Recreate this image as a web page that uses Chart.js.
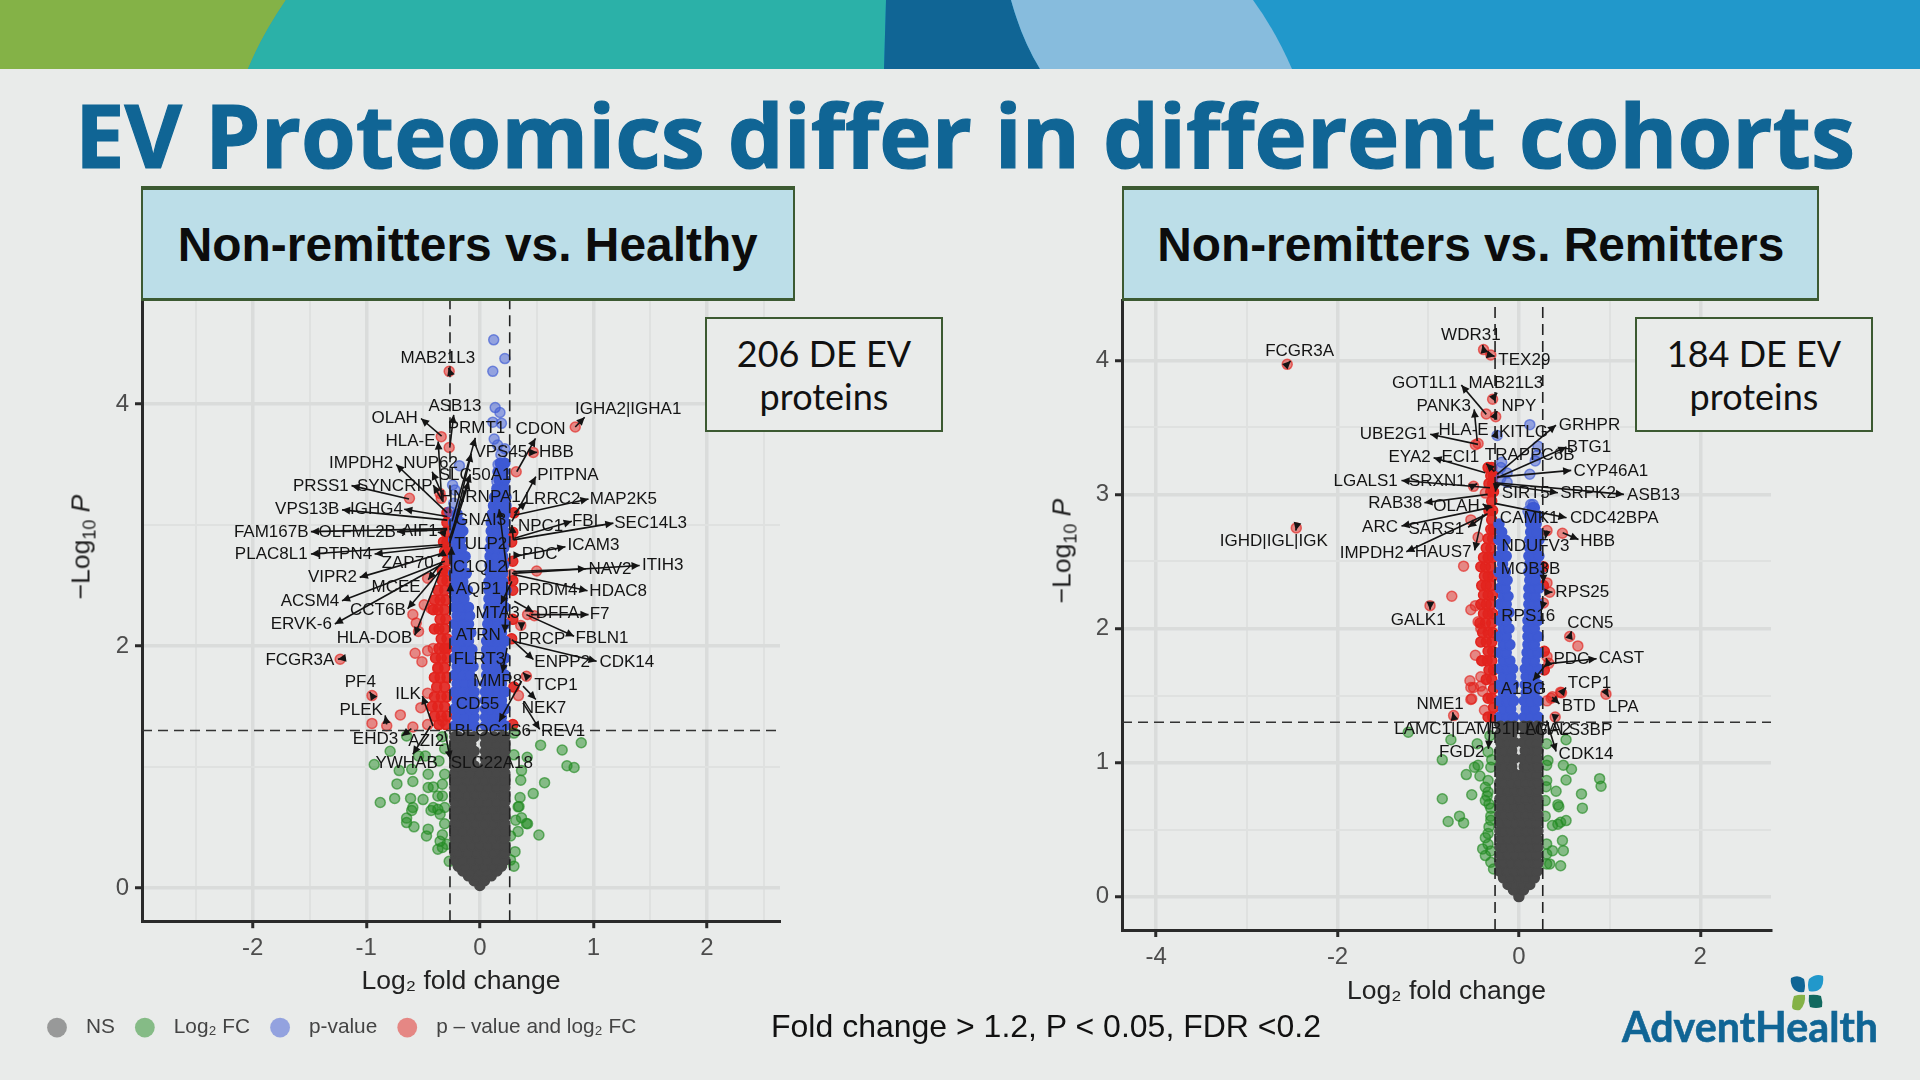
<!DOCTYPE html>
<html><head><meta charset="utf-8">
<script src="https://cdn.jsdelivr.net/npm/chart.js@4/dist/chart.umd.min.js"></script>
<style>
html,body{margin:0;padding:0;width:1920px;height:1080px;overflow:hidden;background:#E9EBEA;font-family:"Liberation Sans",sans-serif}
canvas{position:absolute}
.abs{position:absolute;white-space:nowrap}
.hdr{position:absolute;background:#BCDEE8;border:2px solid #3C5A32;border-top-width:4px;border-bottom-width:3px;box-sizing:border-box;display:flex;align-items:center;justify-content:center;font:bold 48px "Liberation Sans";color:#0c0c0c;top:186px;height:115px}
.de{position:absolute;top:317px;height:115px;border:2px solid #3C5A32;background:#E9EBEA;box-sizing:border-box;text-align:center;font:36px/43px Lato;color:#111;padding-top:13px}
.yt{position:absolute;font:26.5px "Liberation Sans";color:#222;transform:translate(-50%,-50%) rotate(-90deg);white-space:nowrap}
.yt sub{font-size:18px;line-height:0}
</style></head><body>
<svg class="abs" style="left:0;top:0" width="1920" height="69">
<rect width="1920" height="69" fill="#2198CB"/>
<path d="M0 0H286Q262 35 248 69H0Z" fill="#84B247"/>
<path d="M286 0H886L884 69H248Q262 35 286 0Z" fill="#2BB1A8"/>
<path d="M886 0H1011Q1022 40 1040 69H884Z" fill="#106595"/>
<path d="M1011 0H1253Q1275 30 1292 69H1040Q1022 40 1011 0Z" fill="#87BCDD"/>
</svg>
<canvas id="cL" width="900" height="784" style="left:0;top:270px"></canvas>
<canvas id="cR" width="900" height="720" style="left:1000px;top:291px"></canvas>
<div id="ttl" class="abs" style="left:75px;top:74px;font:bold 88px 'Open Sans';color:#106595;-webkit-text-stroke:1.2px #106595;transform-origin:0 0">EV Proteomics differ in different cohorts</div>
<div class="hdr" style="left:141px;width:654px"><span id="h1" style="display:inline-block">Non-remitters vs. Healthy</span></div>
<div class="hdr" style="left:1122px;width:697px"><span id="h2" style="display:inline-block">Non-remitters vs. Remitters</span></div>
<div class="de" style="left:705px;width:238px">206 DE EV<br>proteins</div>
<div class="de" style="left:1635px;width:238px">184 DE EV<br>proteins</div>
<div class="yt" style="left:81px;top:547px">−Log<sub>10</sub> <i>P</i></div>
<div class="yt" style="left:1062px;top:551px">−Log<sub>10</sub> <i>P</i></div>
<div class="abs" style="left:771px;top:1008px;font:32px 'Liberation Sans';color:#111">Fold change &gt; 1.2, P &lt; 0.05, FDR &lt;0.2</div>
<svg class="abs" style="left:1788px;top:974px" width="38" height="38" viewBox="0 0 38 38">
<path d="M3 4Q10 0 16 5Q18 12 16 18Q8 19 5 14Q2 9 3 4Z" fill="#106595"/>
<path d="M21 5Q28 -1 35 2Q36 10 33 14Q28 19 21 17Q19 11 21 5Z" fill="#2198CB"/>
<path d="M6 22Q12 20 17 21Q18 30 12 36Q5 37 4 33Q4 27 6 22Z" fill="#84B247"/>
<path d="M21 21Q28 20 33 22Q35 28 34 33Q28 35 22 33Q20 27 21 21Z" fill="#12695F"/>
</svg>
<div id="logo" class="abs" style="left:1622px;top:1001px;font:bold 42px Lato;color:#106595;-webkit-text-stroke:.6px #106595;transform-origin:0 0">AdventHealth</div>
<script>
// ---------- thresholds ----------
const xCut = 0.263, yCut = 1.301;
const legendNames = ["NS", "Log₂ FC", "p-value", "p – value and log₂ FC"];
const xTitleText = "Log₂ fold change";

// ---------- LEFT PANEL values, rows are [y, x, x, ...] ----------
const leftGray = [[.02,0],[.06,-.05,.04],[.10,-.1,-.03,.04,.1],[.14,-.15,-.08,0,.07,.15],[.18,-.19,-.12,-.04,.04,.12,.19],
[.23,-.22,-.15,-.07,0,.07,.15,.22],[.29,-.22,-.19,-.11,-.03,.05,.12,.2,.22],[.35,-.22,-.15,-.07,0,.07,.15,.22],[.41,-.22,-.19,-.11,-.03,.04,.11,.19,.22],
[.47,-.22,-.15,-.07,0,.08,.15,.22],[.53,-.22,-.19,-.11,-.04,.04,.12,.19,.22],[.59,-.22,-.15,-.07,0,.07,.15,.22],[.65,-.22,-.19,-.11,-.04,.04,.11,.19,.22],
[.71,-.22,-.15,-.07,0,.07,.15,.22],[.77,-.22,-.19,-.11,-.04,.04,.11,.2,.22],[.83,-.22,-.15,-.07,0,.07,.15,.22],[.89,-.22,-.19,-.11,-.04,.04,.12,.19,.22],
[.95,-.22,-.15,-.08,0,.08,.15,.22],[1.01,-.22,-.19,-.12,-.05,.05,.11,.19,.22],[1.07,-.22,-.15,-.08,.05,.08,.15,.22],[1.13,-.22,-.19,-.11,-.05,.05,.12,.19,.22],
[1.19,-.22,-.15,-.08,.05,.08,.15,.22],[1.25,-.22,-.19,-.11,-.05,.05,.12,.19,.22]];
const leftBlueDense = [[1.34,-.22,-.15,-.09,-.05,.05,.1,.16,.22],[1.41,-.2,-.13,-.05,.05,.12,.19],[1.48,-.22,-.15,-.09,-.05,.05,.09,.16,.22],
[1.55,-.2,-.13,-.05,.05,.12,.19],[1.62,-.22,-.15,-.09,-.05,.05,.09,.16,.22],[1.69,-.2,-.13,-.06,.05,.12,.19],[1.76,-.22,-.15,-.09,.06,.1,.16,.22],
[1.83,-.2,-.13,-.06,.06,.12,.19],[1.90,-.22,-.15,-.09,.06,.1,.16,.22],[1.97,-.2,-.13,-.07,.06,.12,.19],[2.04,-.22,-.15,-.1,.06,.1,.16,.22],
[2.11,-.2,-.13,-.08,.07,.12,.19],[2.18,-.22,-.15,-.1,.07,.11,.16,.22],[2.25,-.2,-.13,-.09,.07,.13,.19],[2.32,-.22,-.16,-.1,.08,.12,.17,.22],
[2.39,-.21,-.14,.08,.14,.2],[2.46,-.23,-.17,-.11,.08,.13,.18,.23],[2.53,-.21,-.15,.08,.14,.2],[2.60,-.23,-.17,-.12,.09,.14,.2],
[2.67,-.21,-.16,.09,.15,.21],[2.74,-.23,-.18,-.13,.09,.14,.2],[2.81,-.21,-.16,.09,.15,.21],[2.88,-.23,-.17,.1,.16,.22],
[2.95,-.22,-.15,.1,.15,.21],[3.02,-.23,-.17,.1,.16,.22],[3.09,-.2,.11,.17,.22],[3.16,.12,.17,.23],[3.23,.13,.19,.23],[3.3,.15,.21],[3.37,.17,.22],[3.44,.16,.21],[3.51,.18,.22]];
const leftBlueSparse = [[4.53,.122],[4.375,.22],[4.27,.114],[3.97,.135],[3.93,.177],[3.85,.114],[3.84,.19],[3.71,.126],[3.66,.156],[3.58,.185],[3.63,.22],
[3.5,.16],[3.46,.2],[3.4,.19],[3.36,.15],[3.31,.22],[3.49,-.18],[3.33,-.24],[3.29,-.22],[3.11,-.265],[3.18,-.23]];
const leftRedDense = [[1.35,-.3,-.36,.29],[1.42,-.29,-.34,-.4],[1.5,-.31,-.37,-.42],[1.58,-.29,-.34,-.4],[1.66,-.31,-.38,.3],[1.74,-.29,-.35,-.4],[1.82,-.31,-.37],
[1.9,-.29,-.34,-.39],[1.98,-.31,-.36,-.29],[2.06,-.29,-.34,.28],[2.14,-.31,-.36,-.4],[2.22,-.3,-.35,.29],[2.3,-.31,-.37,-.41],[2.38,-.3,-.35,-.4],[2.46,-.31,-.37,.29],
[2.54,-.29,-.33,.29],[2.62,-.3,-.33],[2.7,-.29,.29],[2.78,-.31,-.28],[2.86,-.32,-.29,.28],[2.94,-.3,.29],[3.02,-.29],[3.1,-.29,.3]];
const leftRedSparse = [[4.27,-.27],[3.81,.84],[3.73,-.34],[3.64,-.27],[3.6,.47],[3.44,.32],[3.22,-.62],[3.22,-.34],[3.26,-.35],[2.62,.5],[2.59,.28],[2.56,-.46],
[2.26,-.59],[2.34,-.49],[2.31,-.43],[2.19,-.56],[2.12,-.54],[2.26,.42],[2.25,.48],[2.17,.36],[1.94,-.57],[1.87,-.51],[1.96,-.46],[1.98,-.41],[1.89,-1.23],
[1.81,-.37],[1.75,.41],[1.59,-.95],[1.61,-.46],[1.59,.34],[1.49,-.52],[1.43,-.7],[1.36,-.95],[1.34,-.82],[1.33,-.59],[1.35,-.46],[1.38,-.33]];
const leftGreen = [[1.256,-.645],[1.13,-.79],[1.02,-.93],[.97,-.71],[.98,-.6],[1.09,-.54],[1.09,-.48],[.94,-.455],[.86,-.73],[.88,-.59],[.83,-.455],[.835,-.41],[.857,-.33],
[.94,-.31],[.74,-.75],[.706,-.877],[.74,-.61],[.73,-.5],[.76,-.37],[.76,-.33],[.665,-.59],[.64,-.6],[.665,-.41],[.65,-.37],[.665,-.31],[.64,-.43],[.61,-.35],[.577,-.645],
[.54,-.645],[.505,-.58],[.486,-.455],[.43,-.47],[.53,-.31],[.44,-.33],[.385,-.35],[.32,-.37],[.335,-.33],[.36,-.29],[.22,-.27],[1.25,-.33],[1.15,-.31],[1.05,-.36],
[1.18,.535],[1.14,.725],[1.2,.893],[1.28,.3],[1.01,.767],[.995,.83],[1.1,.3],[1.08,.417],[.97,.367],[.89,.36],[.87,.57],[.78,.47],[.747,.354],[.673,.345],[.67,.337],
[.58,.367],[.56,.316],[.533,.41],[.53,.42],[.467,.337],[.437,.52],[.43,.27],[.3,.31],[.23,.27],[.18,.3]];
const leftLabels = [
["MAB21L3",-.37,4.375,-.265,4.27,-.275,4.30],["ASB13",-.22,3.98,-.265,3.64,-.23,3.91],["OLAH",-.75,3.885,-.337,3.735,-.518,3.88],
["PRMT1",-.03,3.80,-.245,3.03,-.04,3.72],["CDON",.535,3.79,.325,3.44,.49,3.715],["IGHA2|IGHA1",1.306,3.96,.84,3.81,.923,3.89],
["HLA-E",-.61,3.69,-.337,3.22,-.367,3.69],["VPS45",.185,3.60,-.245,2.92,-.076,3.59],["HBB",.674,3.60,.468,3.60,.505,3.6],
["IMPDH2",-1.045,3.506,-.287,3.10,-.737,3.5],["NUP62",-.434,3.506,-.33,3.25,-.42,3.44],["SLC50A1",-.042,3.41,-.265,2.89,-.084,3.42],
["PITPNA",.775,3.41,.282,3.03,.493,3.40],["PRSS1",-1.40,3.317,-.624,3.215,-1.13,3.325],["SYNCRIP",-.75,3.317,-.33,3.2,-.41,3.33],
["HNRNPA1",.008,3.226,-.265,2.85,-.097,3.36],["LRRC2",.64,3.215,.303,3.10,.41,3.19],["MAP2K5",1.264,3.215,.303,3.08,.957,3.215],
["VPS13B",-1.52,3.13,-.287,3.04,-1.214,3.125],["IGHG4",-.91,3.13,-.287,3.07,-.666,3.13],["GNAI3",.008,3.04,.24,2.61,.17,3.13],
["NPC1",.535,2.99,.295,2.877,.282,3.0],["FBL",.948,3.03,.303,2.89,.81,3.03],["SEC14L3",1.504,3.01,.295,2.877,1.176,3.015],
["FAM167B",-1.837,2.94,-.287,2.97,-1.488,2.945],["OLFML2B",-1.08,2.94,-.287,2.96,-.73,2.945],["AIF1",-.53,2.945,-.3,2.93,-.37,2.94],
["TULP2",.008,2.844,-.25,2.6,-.25,2.82],["ICAM3",1.0,2.83,.303,2.74,.754,2.82],["PDC",.527,2.754,.325,2.75,.367,2.75],
["PLAC8L1",-1.837,2.754,-.33,2.836,-1.488,2.76],["PTPN4",-1.19,2.754,-.33,2.822,-.927,2.76],["ZAP70",-.636,2.685,-.31,2.77,-.37,2.74],
["C1QL2",0,2.65],["ITIH3",1.61,2.665,.282,2.60,1.407,2.665],["NAV2",1.146,2.635,.295,2.616,.935,2.638],["VIPR2",-1.298,2.567,-.33,2.767,-1.058,2.567],
["HDAC8",1.218,2.45,.295,2.59,.948,2.456],["PRDM4",.598,2.456],["AQP1",-.013,2.465,-.26,2.26,-.26,2.52],["MCEE",-.737,2.484,-.33,2.70,-.455,2.547],
["ACSM4",-1.496,2.369,-.308,2.70,-1.214,2.374],["CCT6B",-.898,2.292,-.33,2.643,-.636,2.308],["ERVK-6",-1.572,2.182,-.33,2.677,-1.277,2.182],
["MTA3",.156,2.273,.282,2.534,.185,2.347],["DFFA",.683,2.273,.303,2.369,.472,2.28],["F7",1.054,2.259,.45,2.259,.957,2.259],["FBLN1",1.075,2.066,.41,2.259,.83,2.08],
["HLA-DOB",-.927,2.066,-.35,2.616,-.573,2.088],["ATRN",-.013,2.086,.24,2.53,.22,2.11],["PRCP",.544,2.058,.367,2.176,.367,2.13],
["ENPP2",.725,1.866,.282,2.053,.472,1.888],["CDK14",1.294,1.866,.295,2.039,1.028,1.874],["FCGR3A",-1.585,1.88,-1.23,1.893,-1.25,1.89],["FLRT3",-.004,1.893],
["MMP8",.156,1.709,.24,1.984,.198,1.778],["TCP1",.67,1.676,.41,1.75,.38,1.78],["PF4",-1.053,1.70,-.952,1.594,-.97,1.62],
["ILK",-.632,1.6,-.413,1.338,-.506,1.586],["PLEK",-1.045,1.467,-.82,1.352,-.834,1.426],["CD55",-.02,1.517],["NEK7",.565,1.484,.38,1.668,.493,1.558],
["BLOC1S6",.114,1.297,.367,1.71,.169,1.374],["REV1",.733,1.297,.38,1.53,.527,1.31],["EHD3",-.919,1.228,-.603,1.316,-.687,1.256],["AZI2",-.472,1.215],
["YWHAB",-.645,1.028,-.434,1.338,-.59,1.105],["SLC22A18",.105,1.028,-.308,1.297,-.261,1.066]];

// ---------- RIGHT PANEL values ----------
const rightGray = [[.0,0],[.05,-.06,.05],[.09,-.12,-.04,.04,.12],[.14,-.17,-.09,0,.08,.17],[.19,-.21,-.13,-.05,.04,.12,.2],[.25,-.21,-.17,-.08,0,.08,.17,.21],
[.31,-.2,-.12,-.04,.04,.12,.2],[.37,-.21,-.16,-.08,0,.08,.16,.21],[.43,-.2,-.12,-.04,.04,.12,.2],[.49,-.21,-.16,-.08,0,.08,.16,.21],[.55,-.2,-.12,-.04,.04,.12,.2],[.61,-.21,-.16,-.08,0,.08,.16,.21],
[.67,-.2,-.12,-.04,.04,.12,.2],[.73,-.21,-.16,-.08,0,.08,.16,.21],[.79,-.2,-.12,-.04,.04,.12,.2],[.85,-.21,-.16,-.08,0,.08,.16,.21],[.91,-.2,-.12,-.04,.04,.12,.2],[.97,-.21,-.16,-.08,.06,.08,.16,.21],
[1.03,-.2,-.12,-.05,.05,.12,.2],[1.09,-.21,-.16,-.08,.07,.16,.21],[1.15,-.2,-.12,-.05,.05,.12,.2],[1.21,-.21,-.16,-.08,.07,.16,.21],[1.27,-.2,-.12,-.05,.05,.12,.2]];
const rightBlueDense = [[1.34,-.21,-.13,-.06,.06,.13,.21],[1.4,-.17,-.09,.08,.17],[1.46,-.21,-.13,-.06,.06,.13,.21],[1.52,-.17,-.09,.08,.17],[1.58,-.21,-.13,-.06,.07,.13,.21],
[1.64,-.17,-.09,.08,.17],[1.7,-.21,-.13,-.07,.07,.13,.21],[1.76,-.17,-.1,.09,.17],[1.82,-.21,-.14,.09,.14,.21],[1.88,-.17,-.1,.1,.17],[1.94,-.21,-.14,.1,.15,.21],
[2.0,-.17,-.11,.1,.17],[2.06,-.21,-.14,.1,.15,.21],[2.12,-.17,-.11,.11,.18],[2.18,-.21,-.14,.11,.16,.22],[2.24,-.17,-.12,.11,.18],[2.3,-.21,-.15,.11,.16,.22],
[2.36,-.18,-.13,.12,.18],[2.42,-.22,-.15,.11,.16,.22],[2.48,-.18,.12,.19],[2.54,-.22,-.14,.11,.16,.22],[2.6,-.18,.12,.19],[2.66,-.22,-.15,.12,.17,.22],[2.72,-.19,.13,.2],[2.78,-.22,.13,.19],[2.84,.12,.18,.21],[2.9,.15,.17]];
const rightBlueSparse = [[3.52,.12],[3.44,-.24],[3.36,.21],[3.25,.18],[3.24,-.19],[3.15,.12],[3.16,-.13],[3.09,-.13],[2.925,.156],[2.925,.13],[2.875,.1],[3.2,-.2],[3.29,.2],[3.12,-.2]];
const rightRedDense = [[1.34,-.29,-.34],[1.41,-.28],[1.48,-.3,-.34],[1.55,-.28],[1.62,-.3,-.36],[1.69,-.28,-.33,.28],[1.76,-.3,-.35,-.41],[1.83,-.29,-.34,.28],[1.9,-.3,-.36,-.42],[1.97,-.29,-.34,-.4],
[2.04,-.3,-.37,-.43],[2.11,-.29,-.34,-.39],[2.18,-.31,-.36,-.42],[2.25,-.29,-.34,-.39],[2.32,-.31,-.36,-.41,.27],[2.39,-.29,-.34,-.38],[2.46,-.31,-.37,-.42,.27],[2.53,-.29,-.34,-.39],[2.6,-.31,-.36],
[2.67,-.29,-.34],[2.74,-.31,-.28],[2.81,-.3],[2.88,-.29,-.33],[2.95,-.3],[3.02,-.31,-.28],[3.08,-.29,-.33],[3.14,-.31,-.28],[3.2,-.3,-.34]];
const rightRedSparse = [[3.97,-2.555],[4.08,-.39],[4.04,-.31],[3.71,-.29],[3.6,-.36],[3.58,-.256],[3.38,-.45],[3.37,-.48],[2.75,-2.455],[3.06,-.5],[3.01,-.37],[2.81,-.53],[2.68,-.45],
[2.73,.31],[2.71,.48],[2.465,-.61],[2.24,-.74],[2.17,-.98],[2.34,.31],[2.27,.34],[2.19,.27],[1.94,.56],[1.87,.65],[2.17,-.48],[2.14,-.53],[2.05,-.45],[2.0,-.42],[1.79,.31],[1.74,.33],[1.8,-.48],
[1.61,-.54],[1.56,-.53],[1.56,-.5],[1.57,-.42],[1.53,-.4],[1.47,-.53],[1.52,.47],[1.51,.96],[1.48,.355],[1.46,.31],[1.35,-.72],[1.39,-.38],[1.475,-.52],[1.34,.4],[1.49,.37],[1.525,.46],[1.64,-.42],[1.76,-.4]];
const rightGreen = [[1.226,-1.22],[1.17,-.75],[1.02,-.845],[1.14,-.46],[.965,-.49],[.98,-.45],[.91,-.58],[.9,-.43],[1.08,-.34],[.965,-.31],[.866,-.34],[.816,-.37],[.78,-.34],[.75,-.35],[.73,-.845],[.76,-.52],
[.716,-.37],[.6,-.31],[.57,-.31],[.6,-.655],[.56,-.78],[.55,-.61],[.47,-.34],[.44,-.37],[.39,-.34],[.356,-.4],[.306,-.37],[.256,-.31],[.206,-.28],[1.2,-.32],[1.02,-.3],[.69,-.33],[.66,-.31],[.52,-.33],[.34,-.31],
[1.17,.52],[1.14,.306],[1.015,.32],[.98,.49],[.95,.58],[.98,.306],[.88,.89],[.823,.906],[.87,.52],[.866,.306],[.786,.41],[.766,.69],[.66,.7],[.686,.43],[.67,.44],[.716,.29],[.567,.52],[.555,.46],[.53,.37],[.54,.43],
[.418,.48],[.343,.49],[.343,.37],[.318,.306],[.393,.306],[.23,.46],[.244,.34],[.244,.306],[.6,.29],[.82,.3]];
const rightLabels = [
["WDR31",-.53,4.187,-.388,4.08,-.40,4.115],["TEX29",.06,4.0,-.309,4.037,-.267,4.03],["FCGR3A",-2.418,4.065,-2.555,3.97,-2.518,3.995],
["GOT1L1",-1.04,3.828,-.36,3.597,-.635,3.816],["MAB21L3",-.145,3.828,-.293,3.714,-.24,3.759],["PANK3",-.83,3.654,-.46,3.398,-.493,3.634],["NPY",0,3.654,-.266,3.585,-.24,3.622],
["GRHPR",.778,3.517,-.24,3.149,.409,3.517],["KITLG",.05,3.46,-.256,3.443,-.235,3.48],["HLA-E",-.61,3.48],["UBE2G1",-1.385,3.448,-.451,3.373,-.978,3.448],
["BTG1",.773,3.348,-.24,3.124,.525,3.353],["TRAPPC6B",.119,3.294,-.27,3.17,-.36,3.23],["EYA2",-1.205,3.274,-.372,3.162,-.941,3.274],["ECI1",-.646,3.274],
["CYP46A1",1.015,3.174,-.24,3.129,.577,3.179],["LGALS1",-1.69,3.1,-.319,3.05,-1.295,3.104],["SRXN1",-.9,3.1,-.514,3.062,-.46,3.08],["SIRT5",.076,3.007,-.25,3.06,-.26,3.02],
["SRPK2",.762,3.007,-.266,3.08,.43,3.012],["ASB13",1.485,2.995,-.266,3.087,1.158,3.0],["RAB38",-1.364,2.933,-.345,3.0,-1.042,2.938],["OLAH",-.688,2.913,-.34,2.9,-.4,2.93],
["CDC42BPA",1.052,2.82,-.266,2.933,.525,2.826],["CAMK1",.113,2.82],["ARC",-1.532,2.751,-.293,2.905,-1.295,2.764],["SARS1",-.91,2.739,-.36,2.85,-.56,2.755],
["HBB",.868,2.647,.483,2.714,.657,2.664],["IGHD|IGL|IGK",-2.703,2.647,-2.455,2.746,-2.46,2.73],["NDUFV3",.182,2.614,.31,2.73,.29,2.67],
["IMPDH2",-1.622,2.56,-.345,2.856,-1.242,2.572],["HAUS7",-.836,2.565,-.398,2.851,-.488,2.582],["MOB3B",.129,2.445,.27,2.5,.27,2.34],["RPS25",.699,2.266,.34,2.271,.37,2.271],
["RPS16",.103,2.092,.27,2.19,.25,2.14],["GALK1",-1.11,2.06,-.978,2.167,-.98,2.14],["CCN5",.788,2.037,.562,1.943,.58,1.98],["PDC",.578,1.769,.33,1.72,.3,1.78],
["CAST",1.131,1.774,.303,1.736,.857,1.774],["A1BG",.05,1.545,.314,1.744,.156,1.612],["TCP1",.778,1.594,.472,1.52,.52,1.56],["NME1",-.869,1.438,-.722,1.351,-.73,1.375],
["BTD",.661,1.42,.367,1.488,.447,1.438],["LPA",1.15,1.413,.967,1.517,.99,1.49],["LGALS3BP",.55,1.239,.398,1.338,.39,1.3],["LAMC1|LAMB1|LAMA2",-.398,1.246],
["FGD2",-.63,1.077,-.306,1.363,-.337,1.102],["CDK14",.74,1.065,.306,1.313,.41,1.082]];

// ---------- helpers: build point lists from the tables above ----------
const fromRows = rows => rows.flatMap(([y, ...xs]) => xs.map(x => ({x, y})));
const fromPairs = pairs => pairs.map(([y, x]) => ({x, y}));

const GRAY = "72,72,72", GREEN = "34,139,34", BLUE = "62,90,212", RED = "226,36,30";
const isMajor = (v, m) => Math.abs(v / m - Math.round(v / m)) < 1e-6;

function geneLabels(items) {
  return {id: "geneLabels", afterDatasetsDraw(chart) {
    const {ctx, scales: {x, y}} = chart;
    ctx.save();
    ctx.strokeStyle = ctx.fillStyle = "#141414";
    ctx.lineWidth = 1.6;
    for (const [, , , ox, oy, tx, ty] of items) {
      if (ox === undefined) continue;
      const a = x.getPixelForValue(ox), b = y.getPixelForValue(oy), c = x.getPixelForValue(tx), d = y.getPixelForValue(ty);
      const t = Math.atan2(d - b, c - a);
      ctx.beginPath(); ctx.moveTo(a, b); ctx.lineTo(c, d); ctx.stroke();
      ctx.beginPath(); ctx.moveTo(c, d);
      ctx.lineTo(c - 9 * Math.cos(t - .45), d - 9 * Math.sin(t - .45));
      ctx.lineTo(c - 9 * Math.cos(t + .45), d - 9 * Math.sin(t + .45));
      ctx.closePath(); ctx.fill();
    }
    ctx.font = '17px "Liberation Sans"';
    ctx.textAlign = "center"; ctx.textBaseline = "middle";
    for (const [name, lx, ly] of items) ctx.fillText(name, x.getPixelForValue(lx), y.getPixelForValue(ly));
    ctx.restore();
  }};
}

function series(label, rgb, pts, alpha, inLegend) {
  return {label, data: pts, backgroundColor: `rgba(${rgb},${alpha})`, borderColor: `rgba(${rgb},${Math.min(1, alpha + .15)})`,
    borderWidth: 1.5, pointRadius: 5, pointStyle: "circle", inLegend, legendFill: `rgba(${rgb},.5)`};
}

function panel(id, cfg) {
  const axisCommon = (major, labelStep) => ({
    type: "linear", offset: false, border: {color: "#2a2a2a", width: 3},
    grid: {drawOnChartArea: true, color: c => isMajor(c.tick.value, major) ? "#DADCDB" : "#DFE1E0",
      lineWidth: c => isMajor(c.tick.value, major) ? 3.5 : 2,
      tickColor: c => isMajor(c.tick.value, major) ? "#2a2a2a" : "rgba(0,0,0,0)", tickLength: 7, tickWidth: 3},
    ticks: {includeBounds: false, autoSkip: false, maxRotation: 0, color: "#4D4D4D", font: {size: 24, family: "Liberation Sans"}, padding: 6,
      callback: v => isMajor(v, labelStep) ? String(Math.round(v)) : ""}
  });
  new Chart(document.getElementById(id), {
    type: "scatter",
    plugins: [geneLabels(cfg.labels)],
    data: {datasets: [
      {label: "yCut", data: [{x: cfg.xMin, y: yCut}, {x: cfg.xMax, y: yCut}], showLine: true, pointRadius: 0, borderColor: "#333", borderWidth: 1.6, borderDash: [10, 6]},
      {label: "xCutL", data: [{x: -xCut, y: cfg.yMin}, {x: -xCut, y: cfg.yMax}], showLine: true, pointRadius: 0, borderColor: "#222", borderWidth: 1.6, borderDash: [11, 6]},
      {label: "xCutR", data: [{x: xCut, y: cfg.yMin}, {x: xCut, y: cfg.yMax}], showLine: true, pointRadius: 0, borderColor: "#222", borderWidth: 1.6, borderDash: [11, 6]},
      series(legendNames[0], GRAY, fromRows(cfg.gray), 1, true),
      series(legendNames[1], GREEN, fromPairs(cfg.green), .5, true),
      series(legendNames[2], BLUE, fromPairs(cfg.blueSparse), .5, true),
      series(legendNames[2] + " dense", BLUE, fromRows(cfg.blueDense), 1, false),
      series(legendNames[3], RED, fromPairs(cfg.redSparse), .5, true),
      series(legendNames[3] + " dense", RED, fromRows(cfg.redDense), .9, false)
    ]},
    options: {
      responsive: false, animation: false, events: [],
      layout: {padding: cfg.pad},
      plugins: {
        tooltip: {enabled: false}, title: {display: false},
        legend: {display: cfg.legend, position: "bottom", align: "start",
          labels: {usePointStyle: true, boxHeight: 14, boxWidth: 14, padding: 23, color: "#444", font: {size: 20.8, family: "Liberation Sans"},
            generateLabels: chart => Chart.defaults.plugins.legend.labels.generateLabels(chart)
              .filter(it => chart.data.datasets[it.datasetIndex].inLegend)
              .map(it => Object.assign(it, {text: "  " + it.text, fillStyle: chart.data.datasets[it.datasetIndex].legendFill, strokeStyle: "rgba(0,0,0,0)"}))}}
      },
      scales: {
        x: Object.assign(axisCommon(cfg.xMajor, cfg.xLabelStep), {min: cfg.xMin, max: cfg.xMax,
          title: {display: true, text: xTitleText, color: "#222", font: {size: 26.5, family: "Liberation Sans"}, padding: {top: 2, bottom: cfg.titlePad}},
          afterFit: s => { s.height = cfg.xHeight; s.paddingLeft = 0; s.paddingRight = 0; }}),
        y: Object.assign(axisCommon(cfg.yMajor, cfg.yLabelStep), {min: cfg.yMin, max: cfg.yMax,
          afterFit: s => { s.width = cfg.yWidth; s.paddingTop = 0; s.paddingBottom = 0; }})
      }
    }
  });
  const xs = Chart.getChart(id).scales.x, ys = Chart.getChart(id).scales.y;
  xs.options.ticks.stepSize = cfg.xStep; ys.options.ticks.stepSize = cfg.yStep;
  Chart.getChart(id).update("none");
}

panel("cL", {labels: leftLabels, gray: leftGray, green: leftGreen, blueSparse: leftBlueSparse, blueDense: leftBlueDense, redSparse: leftRedSparse, redDense: leftRedDense,
  xMin: -2.975, xMax: 2.643, yMin: -.275, yMax: 5.0, xStep: .5, yStep: 1, xMajor: 1, yMajor: 2, xLabelStep: 1, yLabelStep: 2,
  pad: {left: 27, right: 120, top: 13, bottom: 6}, yWidth: 115, xHeight: 73, titlePad: -3, legend: true});
panel("cR", {labels: rightLabels, gray: rightGray, green: rightGreen, blueSparse: rightBlueSparse, blueDense: rightBlueDense, redSparse: rightRedSparse, redDense: rightRedDense,
  xMin: -4.377, xMax: 2.78, yMin: -.249, yMax: 4.45, xStep: 1, yStep: .5, xMajor: 2, yMajor: 1, xLabelStep: 2, yLabelStep: 1,
  pad: {left: 0, right: 129, top: 9, bottom: 0}, yWidth: 122, xHeight: 81, titlePad: 3, legend: false});

// fit the slide's text boxes to their measured width in the picture
function fit(id, w) { const e = document.getElementById(id); e.style.transform = `scaleX(${w / e.getBoundingClientRect().width})`; }
fit("ttl", 1780); fit("h1", 580); fit("h2", 627); fit("logo", 256);
</script>
</body></html>
